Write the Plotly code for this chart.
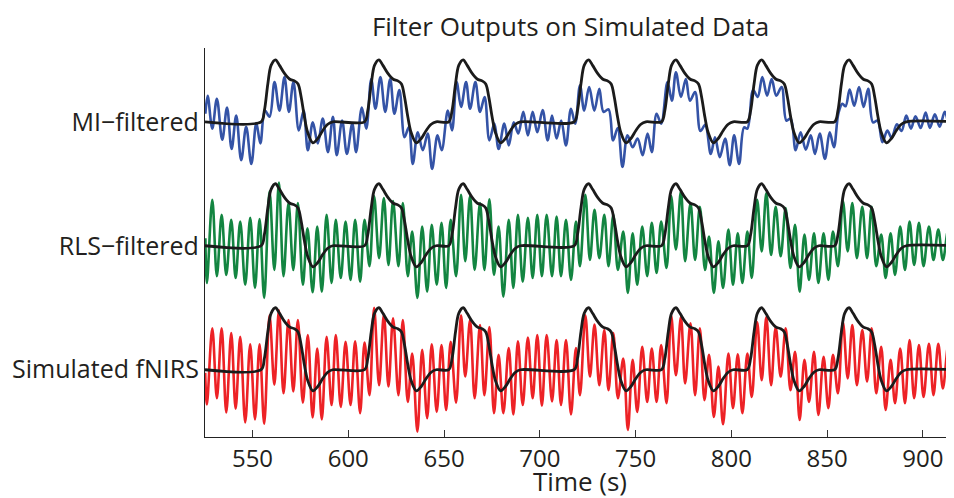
import plotly.graph_objects as go

# ---------------- data ----------------
# Row baselines (stacked display): bottom = simulated, middle = RLS, top = MI
row_offsets = [0, 2, 4]
row_labels = ["Simulated fNIRS", "RLS\u2212filtered", "MI\u2212filtered"]
x_ticks = [550, 600, 650, 700, 750, 800, 850, 900]

# Stimulus-locked response (black curve): onsets and one response shape
hrf_onsets = [554.5, 608.5, 652.5, 718.0, 763.6, 808.4, 854.0]
hrf_dt = [0, 1.7, 3.5, 5.2, 7.5, 9.6, 12.2, 14.8, 17.4, 19.3, 20.9, 22.6, 24.3, 27.0, 29.6, 32.2, 34.8, 37.4]
hrf_v = [0, 0.18, 0.61, 0.91, 1.0, 0.91, 0.78, 0.69, 0.66, 0.61, 0.40, 0.08, -0.17, -0.34, -0.27, -0.14, -0.04, 0]

# Simulated fNIRS (red): peaks and troughs
red_t = [525.3, 526.2, 529.0, 531.4, 533.9, 536.3, 538.9, 541.2, 543.6, 546.2,
         548.8, 551.3, 553.7, 556.1, 558.9, 561.4, 563.8, 566.2, 568.8, 571.3,
         573.7, 576.3, 578.9, 581.4, 583.8, 586.2, 588.7, 591.3, 593.5, 596.1,
         598.6, 601.2, 603.6, 606.2, 608.5, 611.1, 613.5, 616.1, 618.6, 621.0,
         623.4, 626.2, 628.5, 631.1, 633.4, 636.1, 638.6, 641.2, 643.6, 646.2,
         648.7, 651.1, 653.5, 656.3,
         658.9, 661.1, 663.6, 666.0, 668.8, 671.1, 673.7, 676.1, 678.5, 681.0,
         683.8, 686.2, 688.6, 691.1, 693.8, 696.3, 698.7, 701.1, 703.6, 706.4,
         708.8, 711.1, 713.7, 716.3, 718.9, 721.0, 723.8, 726.2, 728.6, 731.1,
         733.7, 735.9, 738.4, 740.8, 743.6, 746.0, 748.5, 750.9, 753.5, 756.1,
         758.5, 761.0, 763.4, 766.2, 768.6, 771.1, 773.7, 775.9, 778.7, 781.1,
         783.6,
         786.0, 788.4, 790.9, 793.3, 795.7, 798.5, 800.9, 803.4, 805.8, 808.4,
         810.7, 813.5, 815.9, 818.3, 820.8, 823.2, 825.8, 828.4, 830.9, 833.3,
         835.7, 838.2, 840.6, 843.2, 845.5, 848.2, 850.7, 853.1, 855.7, 858.3,
         860.8, 863.2, 865.6, 868.4, 870.9, 873.3, 875.7, 878.3, 880.6, 883.2,
         885.5, 888.2, 890.7, 893.1, 895.5, 898.0, 900.4, 903.2, 905.6, 908.1,
         910.5, 913.3, 915.4]
red_v = [-0.05, -0.56, 0.67, -0.46, 0.67, -0.69, 0.59, -0.63, 0.53, -0.85,
         0.41, -0.80, 0.41, -0.87, 0.88, -0.24, 0.96, -0.38, 0.80, -0.35,
         0.80, -0.53, 0.56, -0.77, 0.34, -0.80, 0.53, -0.57, 0.56, -0.60,
         0.45, -0.57, 0.46, -0.70, 0.44, -0.41, 1.00, -0.25, 0.89, -0.27,
         0.83, -0.41, 0.80, -0.52, 0.26, -1.00, 0.32, -0.78, 0.41, -0.68,
         0.40, -0.65, 0.45, -0.53,
         0.88, -0.11, 0.80, -0.46, 0.72, -0.41, 0.69, -0.70, 0.24, -0.70,
         0.35, -0.72, 0.46, -0.57, 0.52, -0.46, 0.56, -0.58, 0.56, -0.51,
         0.48, -0.57, 0.48, -0.72, 0.35, -0.41, 0.88, -0.11, 0.73, -0.25,
         0.64, -0.33, 0.59, -0.46, 0.18, -0.97, 0.16, -0.68, 0.37, -0.52,
         0.34, -0.52, 0.40, -0.54, 0.88, -0.09, 0.85, -0.22, 0.75, -0.41,
         0.67,
         -0.49, 0.24, -0.76, 0.05, -0.88, 0.26, -0.62, 0.25, -0.70, 0.26,
         -0.44, 0.77, -0.17, 0.85, -0.25, 0.69, -0.11, 0.67, -0.33, 0.29,
         -0.81, 0.16, -0.52, 0.29, -0.73, 0.21, -0.62, 0.24, -0.38, 0.77,
         -0.14, 0.72, -0.25, 0.64, -0.19, 0.67, -0.38, 0.37, -0.65, 0.16,
         -0.54, 0.34, -0.54, 0.48, -0.46, 0.40, -0.44, 0.42, -0.41, 0.42,
         -0.30, 0.40, -0.44]

# RLS-filtered (green)
green_t = [525.4, 526.2, 529.0, 531.4, 533.9, 536.3, 538.9, 541.2, 543.6, 546.2,
           548.8, 551.3, 553.7, 556.1, 558.9, 561.4, 563.8, 566.2, 568.8, 571.3,
           573.7, 576.3, 578.7, 581.4, 583.8, 586.2, 588.7, 591.3, 593.5, 596.1,
           598.6, 601.2, 603.6, 606.2, 608.5, 611.1, 613.5, 616.1, 618.6, 621.0,
           623.4, 626.2, 628.5, 631.1, 633.4, 636.1, 638.6, 641.2, 643.6, 646.2,
           648.7, 651.1, 653.5, 656.3,
           658.9, 661.1, 663.6, 666.0, 668.8, 671.1, 673.7, 676.1, 678.5, 681.0,
           683.8, 686.2, 688.6, 691.1, 693.8, 696.3, 698.7, 701.1, 703.6, 706.4,
           708.8, 711.1, 713.7, 716.3, 718.9, 721.0, 723.8, 726.2, 728.6, 731.1,
           733.7, 735.9, 738.4, 740.8, 743.6, 746.0, 748.5, 750.9, 753.5, 756.1,
           758.5, 761.0, 763.4, 766.2, 768.6, 771.1, 773.7, 775.9, 778.7, 781.1,
           783.6,
           786.3, 788.4, 790.9, 793.3, 795.7, 798.5, 800.9, 803.4, 805.8, 808.4,
           810.7, 813.5, 815.9, 818.3, 820.8, 823.2, 825.8, 828.4, 830.9, 833.3,
           835.7, 838.2, 840.6, 843.2, 845.5, 848.2, 850.7, 853.1, 855.7, 858.3,
           860.8, 863.2, 865.6, 868.4, 870.9, 873.3, 875.7, 878.3, 880.6, 883.2,
           885.5, 888.2, 890.7, 893.1, 895.5, 898.0, 900.4, 903.2, 905.6, 908.1,
           910.5, 913.3, 915.4]
green_v = [0.12, -0.60, 0.74, -0.49, 0.50, -0.47, 0.42, -0.52, 0.39, -0.63,
           0.45, -0.68, 0.43, -0.84, 0.88, -0.39, 1.02, -0.49, 0.69, -0.39,
           0.69, -0.63, 0.28, -0.75, 0.31, -0.74, 0.50, -0.60, 0.42, -0.52,
           0.39, -0.55, 0.42, -0.58, 0.42, -0.33, 0.80, -0.20, 0.77, -0.31,
           0.72, -0.33, 0.69, -0.49, 0.23, -0.84, 0.31, -0.74, 0.34, -0.63,
           0.37, -0.68, 0.42, -0.49,
           0.82, -0.25, 0.80, -0.39, 0.69, -0.39, 0.75, -0.47, 0.31, -0.82,
           0.42, -0.68, 0.50, -0.58, 0.45, -0.52, 0.50, -0.49, 0.50, -0.49,
           0.47, -0.49, 0.42, -0.55, 0.39, -0.33, 0.82, -0.23, 0.58, -0.20,
           0.50, -0.33, 0.50, -0.39, 0.23, -0.76, 0.20, -0.63, 0.31, -0.49,
           0.37, -0.44, 0.39, -0.36, 0.80, -0.06, 0.88, -0.25, 0.69, -0.23,
           0.63,
           -0.39, 0.15, -0.76, 0.07, -0.68, 0.26, -0.63, 0.20, -0.60, 0.23,
           -0.52, 0.74, -0.09, 0.85, -0.15, 0.63, -0.17, 0.61, -0.36, 0.34,
           -0.74, 0.18, -0.55, 0.20, -0.60, 0.20, -0.55, 0.23, -0.33, 0.72,
           -0.09, 0.69, -0.20, 0.63, -0.20, 0.63, -0.33, 0.18, -0.52, 0.20,
           -0.47, 0.31, -0.39, 0.39, -0.31, 0.37, -0.33, 0.31, -0.23, 0.26,
           -0.23, 0.26, -0.20]

# MI-filtered (blue)
blue_t = [525.4, 526.6, 529.0, 531.4, 534.2, 536.7, 539.1, 541.5, 544.1, 546.7,
          549.4, 552.0, 554.1, 556.5, 558.9, 561.5, 564.1, 566.7, 569.0, 571.4,
          574.2, 576.7, 578.9, 581.5, 584.1, 586.7, 589.4, 592.0, 594.0, 596.8,
          599.3, 602.1, 604.1, 607.1, 609.4, 612.0, 614.2, 616.8, 619.3, 621.9,
          624.1, 626.7, 629.4, 631.6, 633.7, 636.3, 638.9, 641.5, 643.8, 646.6,
          648.8, 652.0, 654.2,
          656.6, 658.9, 661.5, 663.6, 666.4, 668.8, 671.2, 673.7, 676.3, 678.5,
          681.5, 683.8, 686.4, 688.8, 691.4, 693.8, 696.3, 698.7, 701.5, 704.1,
          706.4, 708.8, 711.2, 713.7, 716.3, 718.5, 721.0, 723.2, 725.8, 728.5,
          731.1, 733.3, 735.9, 738.3, 740.7, 743.2, 745.8, 748.5, 751.1, 753.7,
          756.3, 758.5, 761.0, 763.4, 766.7, 769.0, 771.1, 773.7, 776.3, 778.4,
          781.1,
          783.9, 786.4, 789.3, 791.5, 794.0, 796.8, 799.2, 801.5, 804.1, 806.7,
          808.4, 811.4, 813.8, 816.2, 818.7, 821.1, 823.5, 826.3, 828.8, 831.0,
          833.6, 836.2, 838.9, 841.5, 843.7, 846.2, 848.9, 851.4, 853.6, 855.9,
          858.0, 859.7, 861.8, 864.2, 866.7, 869.1, 871.5, 874.0, 876.4, 878.9,
          881.5, 883.7, 886.5, 888.9, 891.4, 893.8, 896.2, 898.9, 901.5, 903.7,
          906.3, 908.8, 911.5, 914.0, 915.7]
blue_v = [0.13, 0.42, -0.11, 0.37, -0.29, 0.23, -0.44, 0.10, -0.62, -0.08,
          -0.68, -0.02, -0.35, 0.18, 0.08, 0.64, 0.18, 0.72, 0.16, 0.64,
          -0.14, 0.18, -0.46, -0.01, -0.35, 0.05, -0.49, 0.08, -0.54, 0.02,
          -0.52, -0.03, -0.49, 0.23, -0.11, 0.69, 0.21, 0.72, 0.16, 0.69,
          0.13, 0.51, -0.25, -0.09, -0.68, -0.17, -0.46, -0.19, -0.76, -0.22,
          -0.46, 0.18, -0.14,
          0.64, 0.24, 0.64, 0.21, 0.64, 0.16, 0.40, -0.30, -0.03, -0.44,
          -0.03, -0.38, -0.01, -0.19, 0.16, -0.22, 0.16, -0.17, 0.19, -0.30,
          0.10, -0.27, 0.02, -0.38, 0.21, -0.03, 0.59, 0.18, 0.56, 0.18,
          0.53, 0.16, 0.20, -0.30, -0.10, -0.73, -0.22, -0.41, -0.27, -0.54,
          -0.19, -0.49, 0.13, -0.03, 0.64, 0.34, 0.80, 0.40, 0.69, 0.34,
          0.48,
          -0.15, -0.05, -0.52, -0.25, -0.57, -0.27, -0.70, -0.22, -0.68, -0.09,
          -0.11, 0.51, 0.40, 0.72, 0.42, 0.69, 0.42, 0.56, 0.02, 0.05,
          -0.46, -0.17, -0.45, -0.22, -0.52, -0.19, -0.60, -0.17, -0.41, 0.13,
          0.29, 0.25, 0.52, 0.26, 0.56, 0.24, 0.53, -0.01, 0.02, -0.33,
          -0.14, -0.26, -0.04, -0.15, 0.10, -0.11, 0.09, -0.10, 0.15, -0.10,
          0.12, -0.08, 0.16, -0.06, 0.02]

x_range = [525.2, 916.3]
y_range = [-1.085, 5.19]

# ---------------- build figure ----------------
assert len(red_t) == len(red_v)
assert len(green_t) == len(green_v)
assert len(blue_t) == len(blue_v)

# black response curve (same for each row)
hrf_x = [x_range[0]]
hrf_y = [0.0]
for on in hrf_onsets:
    for dt, v in zip(hrf_dt, hrf_v):
        hrf_x.append(on + dt)
        hrf_y.append(v)
hrf_x.append(x_range[1])
hrf_y.append(0.0)

colors = ["#ED2226", "#138541", "#3453A6"]
series = [(red_t, red_v), (green_t, green_v), (blue_t, blue_v)]

fig = go.Figure()
for (t, v), off, col in zip(series, row_offsets, colors):
    fig.add_trace(go.Scatter(
        x=t, y=[off + a for a in v], mode="lines",
        line=dict(color=col, width=2.6, shape="spline", smoothing=1.0),
        hoverinfo="skip", showlegend=False))
for off in row_offsets:
    fig.add_trace(go.Scatter(
        x=hrf_x, y=[off + a for a in hrf_y], mode="lines",
        line=dict(color="#1b1b1b", width=2.8, shape="spline", smoothing=0.9),
        hoverinfo="skip", showlegend=False))

font_family = "Open Sans, Lato, sans-serif"
text_col = "#231f20"

# The page body has an 8 px margin, so the figure is 8 px smaller than the window.
fig.update_layout(
    width=946, height=490,
    margin=dict(l=197, r=0, t=40, b=61, autoexpand=False),
    paper_bgcolor="white", plot_bgcolor="white",
    font=dict(family=font_family, color=text_col),
    title=dict(text="Filter Outputs on Simulated Data", x=0.488, xref="paper",
               xanchor="center", y=0.962, yref="container", yanchor="middle",
               font=dict(size=26, color=text_col, family=font_family)),
    xaxis=dict(range=x_range, tickvals=x_ticks, ticks="inside", ticklen=7,
               tickwidth=1.2, tickcolor="#333", showline=True, linecolor="#222",
               linewidth=1.3, showgrid=False, zeroline=False, automargin=False,
               tickfont=dict(size=24, color=text_col)),
    yaxis=dict(range=y_range, tickvals=row_offsets, ticktext=row_labels, ticks="",
               showline=True, linecolor="#222", linewidth=1.3, showgrid=False,
               zeroline=False, automargin=False, tickfont=dict(size=25, color=text_col),
               ticklabelstandoff=0),
    annotations=[dict(text="Time (s)", xref="paper", yref="paper", x=0.5, y=-0.112,
                      xanchor="center", yanchor="middle", showarrow=False,
                      font=dict(size=26, color=text_col, family=font_family))],
)

fig.write_html("out.html")
